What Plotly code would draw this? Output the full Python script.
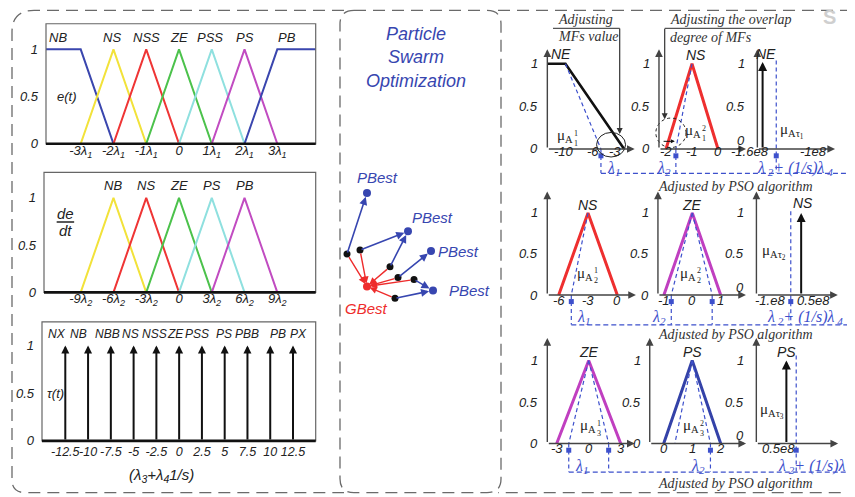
import plotly.graph_objects as go

W, H = 855, 497
SANS = "Liberation Sans, Arial, Helvetica, sans-serif"
SERIF = "Liberation Serif, Times New Roman, serif"

# ======================= DATA =======================
# e(t) fuzzy sets (x in units of lambda_1)
et_labels = ["NB", "NS", "NSS", "ZE", "PSS", "PS", "PB"]
et_x = [[-4.2, -3, -2], [-3, -2, -1], [-2, -1, 0], [-1, 0, 1], [0, 1, 2], [1, 2, 3], [2, 3, 4.3]]
et_y = [[1, 1, 0], [0, 1, 0], [0, 1, 0], [0, 1, 0], [0, 1, 0], [0, 1, 0], [0, 1, 1]]
et_label_x = [-3.68, -2.05, -1.0, 0.0, 0.95, 2.0, 3.3]
et_ticks = [-3, -2, -1, 0, 1, 2, 3]
et_ticktext = ["-3λ<sub>1</sub>", "-2λ<sub>1</sub>", "-1λ<sub>1</sub>", "0",
               "1λ<sub>1</sub>", "2λ<sub>1</sub>", "3λ<sub>1</sub>"]

# de/dt fuzzy sets (x in units of lambda_2)
dedt_labels = ["NB", "NS", "ZE", "PS", "PB"]
dedt_x = [[-9, -6, -3], [-6, -3, 0], [-3, 0, 3], [0, 3, 6], [3, 6, 9]]
dedt_y = [[0, 1, 0], [0, 1, 0], [0, 1, 0], [0, 1, 0], [0, 1, 0]]
dedt_ticks = [-9, -6, -3, 0, 3, 6, 9]
dedt_ticktext = ["-9λ<sub>2</sub>", "-6λ<sub>2</sub>", "-3λ<sub>2</sub>", "0",
                 "3λ<sub>2</sub>", "6λ<sub>2</sub>", "9λ<sub>2</sub>"]

# tau(t) singletons
tau_labels = ["NX", "NB", "NBB", "NS", "NSS", "ZE", "PSS", "PS", "PBB", "PB", "PX"]
tau_x = [-12.5, -10, -7.5, -5, -2.5, 0, 2.5, 5, 7.5, 10, 12.5]
tau_y = [1, 1, 1, 1, 1, 1, 1, 1, 1, 1, 1]
tau_label_x = [-13.4, -11.1, -7.9, -5.3, -2.7, -0.4, 2.0, 4.9, 7.4, 10.8, 13.1]
tau_ticktext = ["-12.5", "-10", "-7.5", "-5", "-2.5", "0", "2.5", "5", "7.5", "10", "12.5"]

mf_yticks = [0, 0.5, 1]
mf_yticktext = ["0", "0.5", "1"]

# PSO sketch (arbitrary sketch units)
pso_particle_x = [7, 20, 50, 58, 74, 55]
pso_particle_y = [243, 247, 230, 219, 217, 198]
pso_pbest_x = [27, 68, 91, 93]
pso_pbest_y = [305, 266, 246, 206]
pso_link = [0, 1, 1, 2, 3, 3]
pso_gbest_x = [27]
pso_gbest_y = [210]

# Right panel: membership functions being tuned
a1_mf_x = [-12.3, -9.8, -1.7]
a1_mf_y = [1, 1, 0]
a1_guide_x = [[-9.8, -4.9]]
a1_guide_y = [[1, 0]]
a1_lambda = [-4.9]
a1_ticks = [-10, -6, -3]
a1_ticktext = ["-10", "-6", "-3"]

b1_mf_x = [-2, -1, 0]
b1_mf_y = [0, 1, 0]
b1_guide_x = [[-1, -1.62]]
b1_guide_y = [[1, 0]]
b1_lambda = [-1.62]
b1_ticks = [-2, -1, 0]
b1_ticktext = ["-2", "-1", "0"]

c1_impulse_x = [-1.48]
c1_impulse_y = [1.02]
c1_lambda = [-1.35]
c1_lambda_top = [1.04]
c1_ticks = [-1.6, -1.0]
c1_ticktext = ["-1.6e8", "-1e8"]

a2_mf_x = [-6, -3, 0]
a2_mf_y = [0, 1, 0]
a2_guide_x = [[-3, -4.71]]
a2_guide_y = [[1, 0]]
a2_lambda = [-4.71]
a2_ticks = [-6, -3, 0]
a2_ticktext = ["-6", "-3", "0"]

b2_mf_x = [-1, 0, 1]
b2_mf_y = [0, 1, 0]
b2_guide_x = [[0, -0.74], [0, 0.70]]
b2_guide_y = [[1, 0], [1, 0]]
b2_lambda = [-0.74, 0.70]
b2_ticks = [-1, 0, 1]
b2_ticktext = ["-1", "0", "1"]

c2_impulse_x = [0.09]
c2_impulse_y = [1.0]
c2_lambda = [-0.27]
c2_lambda_top = [1.02]
c2_ticks = [-1.0, 0.5]
c2_ticktext = ["-1.e8", "0.5e8"]

a3_mf_x = [-3, 0, 3]
a3_mf_y = [0, 1, 0]
a3_guide_x = [[0, -1.87], [0, 1.87]]
a3_guide_y = [[1, 0], [1, 0]]
a3_lambda = [-1.87, 1.87]
a3_ticks = [-3, 0, 3]
a3_ticktext = ["-3", "0", "3"]

b3_mf_x = [0, 1, 2]
b3_mf_y = [0, 1, 0]
b3_guide_x = [[1, 0.39], [1, 1.64]]
b3_guide_y = [[1, 0], [1, 0]]
b3_lambda = [1.64]
b3_ticks = [0, 1, 2]
b3_ticktext = ["0", "1", "2"]

c3_impulse_x = [0.79]
c3_impulse_y = [1.0]
c3_lambda = [1.13]
c3_lambda_top = [1.06]
c3_ticks = [0.5]
c3_ticktext = ["0.5e8"]

# ======================= STYLE =======================
et_colors = ["#3a46ae", "#f2e23a", "#ef3535", "#4cc24c", "#8fe0df", "#c14cc1", "#3a46ae"]
dedt_colors = ["#f2e23a", "#ef3535", "#4cc24c", "#8fe0df", "#c14cc1"]
LBLUE = "#3d50cc"
PBLUE = "#3746b0"
PRED = "#ee2c2c"
GRAY = "#666666"

fig = go.Figure()
layout_axes = {}
annotations = []
shapes = []
cal = {}


def ref(n):
    return ("x", "y") if n == 1 else (f"x{n}", f"y{n}")


def add_axes(n, box, xcal, ycal):
    x0, x1, yt, yb = box
    sx = (xcal[2] - xcal[0]) / (xcal[3] - xcal[1])
    sy = (ycal[2] - ycal[0]) / (ycal[3] - ycal[1])
    xr = [xcal[0] + (x0 - xcal[1]) * sx, xcal[0] + (x1 - xcal[1]) * sx]
    yr = [ycal[0] + (yb - ycal[1]) * sy, ycal[0] + (yt - ycal[1]) * sy]
    s = "" if n == 1 else str(n)
    xa, ya = ref(n)
    layout_axes["xaxis" + s] = dict(domain=[x0 / W, x1 / W], range=xr, visible=False, anchor=ya,
                                    fixedrange=True, showgrid=False, zeroline=False)
    layout_axes["yaxis" + s] = dict(domain=[1 - yb / H, 1 - yt / H], range=yr, visible=False, anchor=xa,
                                    fixedrange=True, showgrid=False, zeroline=False)
    cal[n] = dict(xr=xr, yr=yr, box=box)


def to_px_x(n, v):
    c = cal[n]
    x0, x1 = c["box"][0], c["box"][1]
    return x0 + (v - c["xr"][0]) / (c["xr"][1] - c["xr"][0]) * (x1 - x0)


def line(n, xs, ys, color, width=2, dash=None):
    xa, ya = ref(n)
    fig.add_trace(go.Scatter(x=xs, y=ys, mode="lines", xaxis=xa, yaxis=ya,
                             line=dict(color=color, width=width, dash=dash),
                             hoverinfo="skip", showlegend=False))


def arrow(n, x0, y0, x1, y1, color, width=1.5, head=2, size=1.0, standoff=0, startstandoff=0):
    xa, ya = ref(n)
    annotations.append(dict(x=x1, y=y1, ax=x0, ay=y0, xref=xa, yref=ya, axref=xa, ayref=ya,
                            text="", showarrow=True, arrowhead=head, arrowsize=size,
                            arrowwidth=width, arrowcolor=color, standoff=standoff,
                            startstandoff=startstandoff))


def txt(n, x, y, s, size=13, color="#222", family=SANS, italic=True, xanchor="center",
        yanchor="middle", xshift=0, yshift=0, paper=False):
    if paper:
        xr_, yr_ = "paper", "paper"
        x, y = x / W, 1 - y / H
    else:
        xr_, yr_ = ref(n)
    annotations.append(dict(x=x, y=y, xref=xr_, yref=yr_, text=s, showarrow=False,
                            xanchor=xanchor, yanchor=yanchor, xshift=xshift, yshift=yshift,
                            font=dict(family=family, size=size, color=color,
                                      style="italic" if italic else "normal")))


def P(x, y):
    return f"{x / W:.5f},{1 - y / H:.5f}"


# ======================= LEFT PANEL =======================
tickfont = dict(family=SANS, size=13, color="#222", style="italic")


def left_axes(n, tickvals, ticktext, xstand, ystand, fsize=13):
    s = "" if n == 1 else str(n)
    layout_axes["xaxis" + s].update(visible=True, showline=False, ticks="", tickvals=tickvals,
                                    ticktext=ticktext, ticklabelstandoff=xstand, tickangle=0,
                                    tickfont=dict(tickfont, size=fsize))
    layout_axes["yaxis" + s].update(visible=True, showline=False, ticks="", tickvals=mf_yticks,
                                    ticktext=mf_yticktext, ticklabelstandoff=ystand, tickfont=tickfont)
    xa, ya = ref(n)
    shapes.append(dict(type="rect", xref=xa + " domain", yref=ya + " domain", x0=0, x1=1, y0=0, y1=1,
                       line=dict(color=GRAY, width=1.2), layer="above"))
    shapes.append(dict(type="line", xref=xa + " domain", yref=ya + " domain", x0=0, x1=1, y0=0, y1=0,
                       line=dict(color="#111", width=2.6), layer="above"))


# e(t)
add_axes(1, (38, 307.7, 16, 138), (-3, 72.7, 3, 269.3), (0, 138, 1, 42))
left_axes(1, et_ticks, et_ticktext, -3, 7)
for xs, ys, c in zip(et_x, et_y, et_colors):
    line(1, xs, ys, c, 2)
for lx, lab in zip(et_label_x, et_labels):
    txt(1, lx, 1.125, lab)
txt(1, -3.78, 0.5, "e(t)", xanchor="left")

# de/dt
add_axes(2, (36, 307.7, 167, 289), (-9, 72.7, 9, 269.3), (0, 289, 1, 193))
left_axes(2, dedt_ticks, dedt_ticktext, -3, 7)
for xs, ys, c in zip(dedt_x, dedt_y, dedt_colors):
    line(2, xs, ys, c, 2)
for xs, lab in zip(dedt_x, dedt_labels):
    txt(2, xs[1], 1.13, lab)
txt(2, -10.4, 0.83, "de", size=15)
txt(2, -10.4, 0.65, "dt", size=15)
shapes.append(dict(type="line", xref="x2", yref="y2", x0=-11.2, x1=-9.6, y0=0.745, y1=0.745,
                   line=dict(color="#222", width=1.5)))

# tau(t)
add_axes(3, (34, 307.7, 319, 440), (-12.5, 57.3, 12.5, 285), (0, 440, 1, 343))
left_axes(3, tau_x, tau_ticktext, 2, 7, fsize=12.5)
for xv, yv in zip(tau_x, tau_y):
    arrow(3, xv, 0, xv, yv, "#111", width=2, head=2, size=0.8)
for lx, lab in zip(tau_label_x, tau_labels):
    txt(3, lx, 1.12, lab, size=12)
txt(3, -14.7, 0.5, "τ(t)", xanchor="left")
txt(None, 153, 475, "(λ<sub>3</sub>+λ<sub>4</sub>1/s)", size=15, paper=True)

# ======================= MIDDLE PANEL (PSO) =======================
add_axes(4, (332, 493, 2, 493), (0, 332, 161, 493), (0, 493, 491, 2))
for i, k in enumerate(pso_link):
    arrow(4, pso_particle_x[i], pso_particle_y[i], pso_pbest_x[k], pso_pbest_y[k], PBLUE,
          width=1.6, head=2, size=1.0, standoff=4)
for i in range(len(pso_particle_x)):
    arrow(4, pso_particle_x[i], pso_particle_y[i], pso_gbest_x[0], pso_gbest_y[0], PRED,
          width=1.4, head=2, size=1.0, standoff=3, startstandoff=2)
fig.add_trace(go.Scatter(x=pso_pbest_x, y=pso_pbest_y, mode="markers", xaxis="x4", yaxis="y4",
                         marker=dict(color=PBLUE, size=8), hoverinfo="skip", showlegend=False))
fig.add_trace(go.Scatter(x=pso_gbest_x, y=pso_gbest_y, mode="markers", xaxis="x4", yaxis="y4",
                         marker=dict(color=PRED, size=8), hoverinfo="skip", showlegend=False))
fig.add_trace(go.Scatter(x=pso_particle_x, y=pso_particle_y, mode="markers", xaxis="x4", yaxis="y4",
                         marker=dict(color="#111", size=7), hoverinfo="skip", showlegend=False))
pbest_dx = [10, 24, 27, 36]
pbest_dy = [16, 14, 0, 0]
for bx, by, dx, dy in zip(pso_pbest_x, pso_pbest_y, pbest_dx, pbest_dy):
    txt(4, bx + dx, by + dy, "PBest", size=15, color=PBLUE)
txt(4, pso_gbest_x[0] - 1, pso_gbest_y[0] - 22, "GBest", size=15, color=PRED)
txt(None, 408, 50, "Particle<br>Swarm<br>Optimization", size=18, color=PBLUE, paper=True)

# ======================= RIGHT PANEL =======================
rp_cfg = [
    # n, box(px), x calibration, y calibration, y-axis x, x-axis tip, y-axis tip, tick-label shift
    (5, (520, 632, 36, 168), (-10, 556, -3, 606.7), (0, 143.3, 1, 56.7), -12.3, -0.24, 1.17, -3),
    (6, (640, 742, 36, 168), (-2, 658, 0, 710), (0, 143.3, 1, 56.7), -2.27, 1.08, 1.17, -3),
    (7, (725, 852, 36, 168), (-1.6, 742, -1.0, 805), (0, 143.3, 1, 56.7), -1.53, -0.79, 1.17, -3),
    (8, (520, 632, 182, 322), (-3, 580, 0, 609.3), (0, 291.7, 1, 208.3), -7.17, 1.91, 1.26, -5),
    (9, (640, 742, 182, 322), (0, 684.3, 1, 712.7), (0, 291.7, 1, 208.3), -1.21, 1.89, 1.26, -5),
    (10, (735, 852, 182, 322), (-1.0, 761.7, 0.5, 805), (0, 291.7, 1, 208.3), -1.46, 1.36, 1.26, -5),
    (11, (520, 632, 333, 471.7), (0, 580.7, 3, 612.7), (0, 442.7, 1, 358.3), -3.88, 4.31, 1.27, -5),
    (12, (630, 742, 333, 471.7), (0, 655.7, 2, 712.7), (0, 442.7, 1, 358.3), -0.49, 2.89, 1.27, -5),
    (13, (735, 852, 333, 471.7), (0.5, 770, 1.5, 798.9), (0, 442.7, 1, 358.3), -0.25, 2.58, 1.27, -5),
]
tick_shift = {}
for n, box, xc, yc, yax, xtip, ytip, tsh in rp_cfg:
    add_axes(n, box, xc, yc)
    tick_shift[n] = tsh
    arrow(n, yax, 0, yax, ytip, "#444", width=1.4, head=2, size=1.1)
    arrow(n, yax, 0, xtip, 0, "#444", width=1.4, head=2, size=1.1)
    col_c = n in (7, 10, 13)
    for v, t in zip(mf_yticks, mf_yticktext):
        ys = 8 if (col_c and v == 0) else 0
        txt(n, yax, v, t, xanchor="right", xshift=(-10 if col_c else -7), yshift=ys)

mf_sets = [
    (5, a1_mf_x, a1_mf_y, "#111", 2.6),
    (6, b1_mf_x, b1_mf_y, "#ee2f2f", 3),
    (8, a2_mf_x, a2_mf_y, "#ee2f2f", 3),
    (9, b2_mf_x, b2_mf_y, "#c03fc0", 3),
    (11, a3_mf_x, a3_mf_y, "#c03fc0", 3),
    (12, b3_mf_x, b3_mf_y, "#3442a8", 3),
]
for n, xs, ys, c, w in mf_sets:
    line(n, xs, ys, c, w)

guide_sets = [(5, a1_guide_x, a1_guide_y), (6, b1_guide_x, b1_guide_y), (8, a2_guide_x, a2_guide_y),
              (9, b2_guide_x, b2_guide_y), (11, a3_guide_x, a3_guide_y), (12, b3_guide_x, b3_guide_y)]
for n, gxs, gys in guide_sets:
    for gx, gy in zip(gxs, gys):
        line(n, gx, gy, LBLUE, 1.2, dash="4px,3px")

impulse_sets = [(7, c1_impulse_x, c1_impulse_y), (10, c2_impulse_x, c2_impulse_y),
                (13, c3_impulse_x, c3_impulse_y)]
for n, ixs, iys in impulse_sets:
    for xv, yv in zip(ixs, iys):
        arrow(n, xv, 0, xv, yv, "#111", width=2, head=2, size=0.9)

lambda_sets = [
    (5, a1_lambda, None), (6, b1_lambda, None), (7, c1_lambda, c1_lambda_top),
    (8, a2_lambda, None), (9, b2_lambda, None), (10, c2_lambda, c2_lambda_top),
    (11, a3_lambda, None), (12, b3_lambda, None), (13, c3_lambda, c3_lambda_top),
]
for n, lams, tops in lambda_sets:
    xa, ya = ref(n)
    bottom = cal[n]["yr"][0]
    for i, lv in enumerate(lams):
        top = tops[i] if tops else 0
        shapes.append(dict(type="line", xref=xa, yref=ya, x0=lv, x1=lv, y0=top, y1=bottom,
                           line=dict(color=LBLUE, width=1.2, dash="4px,3px")))
    fig.add_trace(go.Scatter(x=lams, y=[-0.08] * len(lams), mode="markers", xaxis=xa, yaxis=ya,
                             marker=dict(color=LBLUE, size=5, symbol="square"),
                             hoverinfo="skip", showlegend=False, cliponaxis=False))

tick_sets = [(5, a1_ticks, a1_ticktext), (6, b1_ticks, b1_ticktext), (7, c1_ticks, c1_ticktext),
             (8, a2_ticks, a2_ticktext), (9, b2_ticks, b2_ticktext), (10, c2_ticks, c2_ticktext),
             (11, a3_ticks, a3_ticktext), (12, b3_ticks, b3_ticktext), (13, c3_ticks, c3_ticktext)]
for n, tv, tt in tick_sets:
    for v, t in zip(tv, tt):
        txt(n, v, 0, t, yshift=tick_shift[n])

# bracket lines joining the lambda guides ("Adjusted by PSO algorithm")
for n_first, lam_first in [(5, a1_lambda[0]), (8, a2_lambda[0]), (11, a3_lambda[0])]:
    yb = cal[n_first]["box"][3]
    xs = to_px_x(n_first, lam_first)
    shapes.append(dict(type="line", xref="paper", yref="paper", x0=xs / W, x1=853 / W,
                       y0=1 - yb / H, y1=1 - yb / H, line=dict(color=LBLUE, width=1.2, dash="5px,3px")))

# set names and mu labels
name_labels = [(5, -10.4, 1.11, "NE"), (6, -0.85, 1.10, "NS"), (7, -1.45, 1.11, "NE"),
               (8, -3, 1.10, "NS"), (9, 0, 1.10, "ZE"), (10, 0.15, 1.12, "NS"),
               (11, 0, 1.10, "ZE"), (12, 1, 1.10, "PS"), (13, 0.78, 1.10, "PS")]
for n, x, y, s in name_labels:
    txt(n, x, y, s, size=14)

mu_stack = [(5, -8.48, 0.15, "1", "1"), (6, -0.58, 0.21, "2", "1"), (8, -2.28, 0.26, "1", "2"),
            (9, 0.2, 0.26, "2", "2"), (11, 0.87, 0.21, "1", "3"), (12, 1.31, 0.21, "2", "3")]
for n, x, y, sup, sub in mu_stack:
    txt(n, x, y, "μ<sub>A</sub>", size=15, family=SERIF, italic=False, xanchor="right")
    txt(n, x, y, f"{sup}<br>{sub}", size=8, family=SERIF, italic=False, xanchor="left",
        xshift=-3, yshift=-2)
mu_tau = [(7, -1.33, 0.21, "1"), (10, -1.34, 0.52, "2"), (13, -0.19, 0.39, "3")]
for n, x, y, d in mu_tau:
    txt(n, x, y, f"μ<sub>Aτ<sub>{d}</sub></sub>", size=15, family=SERIF, italic=False, xanchor="left")

# circles in the first row
shapes.append(dict(type="circle", xref="x5", yref="y5", x0=-5.5, x1=-1.5, y0=-0.094, y1=0.194,
                   line=dict(color="#222", width=1)))
shapes.append(dict(type="circle", xref="x6", yref="y6", x0=-2.39, x1=-1.23, y0=0.017, y1=0.363,
                   line=dict(color="#222", width=1, dash="dot")))
arrow(6, -2.15, 0.09, -1.66, 0.09, "#111", width=1, head=2, size=0.8)

# lambda labels
lam_text = [
    (5, a1_lambda[0], 163, "λ<sub>1</sub>", "left", 4),
    (6, b1_lambda[0], 163, "λ<sub>2</sub>", "right", -3),
    (7, c1_lambda[0], 163, "λ<sub> 2</sub>+ (1/s)λ<sub> 4</sub>", "center", 19),
    (8, a2_lambda[0], 315, "λ<sub>1</sub>", "left", 4),
    (9, b2_lambda[0], 315, "λ<sub>2</sub>", "right", -3),
    (10, c2_lambda[0], 315, "λ<sub> 2</sub>+ (1/s)λ<sub> 4</sub>", "center", 14),
    (11, a3_lambda[0], 466, "λ<sub>1</sub>", "left", 4),
    (12, b3_lambda[0], 466, "λ<sub>2</sub>", "right", -3),
    (13, c3_lambda[0], 466, "λ<sub> 2</sub>+ (1/s)λ<sub> 4</sub>", "center", 20),
]
for n, xv, ypx, s, anc, sh in lam_text:
    xa, _ = ref(n)
    annotations.append(dict(x=xv, y=1 - ypx / H, xref=xa, yref="paper", text=s, showarrow=False,
                            xanchor=anc, yanchor="middle", xshift=sh,
                            font=dict(family=SERIF, size=16, color=LBLUE, style="italic")))

# headers
for ypx in (181, 332, 483):
    txt(None, 727, ypx, "Adjusted by PSO algorithm", size=14, family=SERIF, color="#333", paper=True)
txt(None, 577, 12, "Adjusting", size=14, family=SERIF, color="#333", paper=True)
txt(None, 580, 29, "MFs value", size=14, family=SERIF, color="#333", paper=True)
txt(None, 660, 12, "Adjusting the overlap", size=14, family=SERIF, color="#333", paper=True, xanchor="left")
txt(None, 660, 30, "degree of MFs", size=14, family=SERIF, color="#333", paper=True, xanchor="left")
shapes.append(dict(type="path", xref="paper", yref="paper",
                   path=f"M{P(545, 20.7)} L{P(611.7, 20.7)}", line=dict(color="#555", width=1.2)))
shapes.append(dict(type="path", xref="paper", yref="paper",
                   path=f"M{P(758, 20.7)} L{P(656.7, 20.7)}", line=dict(color="#555", width=1.2)))
annotations.append(dict(x=611.7 / W, y=1 - 128 / H, xref="paper", yref="paper", ax=0, ay=-107,
                        text="", showarrow=True, arrowhead=2, arrowsize=1, arrowwidth=1.2, arrowcolor="#333"))
annotations.append(dict(x=656.7 / W, y=1 - 113 / H, xref="paper", yref="paper", ax=0, ay=-92,
                        text="", showarrow=True, arrowhead=2, arrowsize=1, arrowwidth=1.2, arrowcolor="#333"))

# watermark
txt(None, 821, 9, "<b>S</b>", size=20, color="#cfcfcf", italic=False, paper=True)

# ======================= FRAMES =======================
left_path = (f"M{P(336, 2.5)} L{P(4 + 22, 2.5)} Q{P(4, 2.5)} {P(4, 2.5 + 22)} "
             f"L{P(4, 492.5 - 13)} Q{P(4, 492.5)} {P(4 + 13, 492.5)} L{P(336, 492.5)}")
right_path = (f"M{P(490, 2.5)} L{P(853 - 13, 2.5)} Q{P(853, 2.5)} {P(853, 2.5 + 13)} "
              f"L{P(853, 492.5 - 14)} Q{P(853, 492.5)} {P(853 - 14, 492.5)} L{P(490, 492.5)}")
x0, y0, x1, y1, rr = 332, 2.5, 493, 492.5, 14
mid_path = (f"M{P(x0 + rr, y0)} L{P(x1 - rr, y0)} Q{P(x1, y0)} {P(x1, y0 + rr)} "
            f"L{P(x1, y1 - rr)} Q{P(x1, y1)} {P(x1 - rr, y1)} L{P(x0 + rr, y1)} "
            f"Q{P(x0, y1)} {P(x0, y1 - rr)} L{P(x0, y0 + rr)} Q{P(x0, y0)} {P(x0 + rr, y0)} Z")
for pth in (left_path, right_path, mid_path):
    shapes.append(dict(type="path", xref="paper", yref="paper", path=pth, layer="below",
                       line=dict(color="#6a6a6a", width=1.3, dash="12px,7px")))

fig.update_layout(
    width=W, height=H, margin=dict(l=0, r=0, t=0, b=0),
    paper_bgcolor="white", plot_bgcolor="rgba(0,0,0,0)",
    showlegend=False, hovermode=False,
    annotations=annotations, shapes=shapes,
    **layout_axes,
)
fig.write_html("out.html")
